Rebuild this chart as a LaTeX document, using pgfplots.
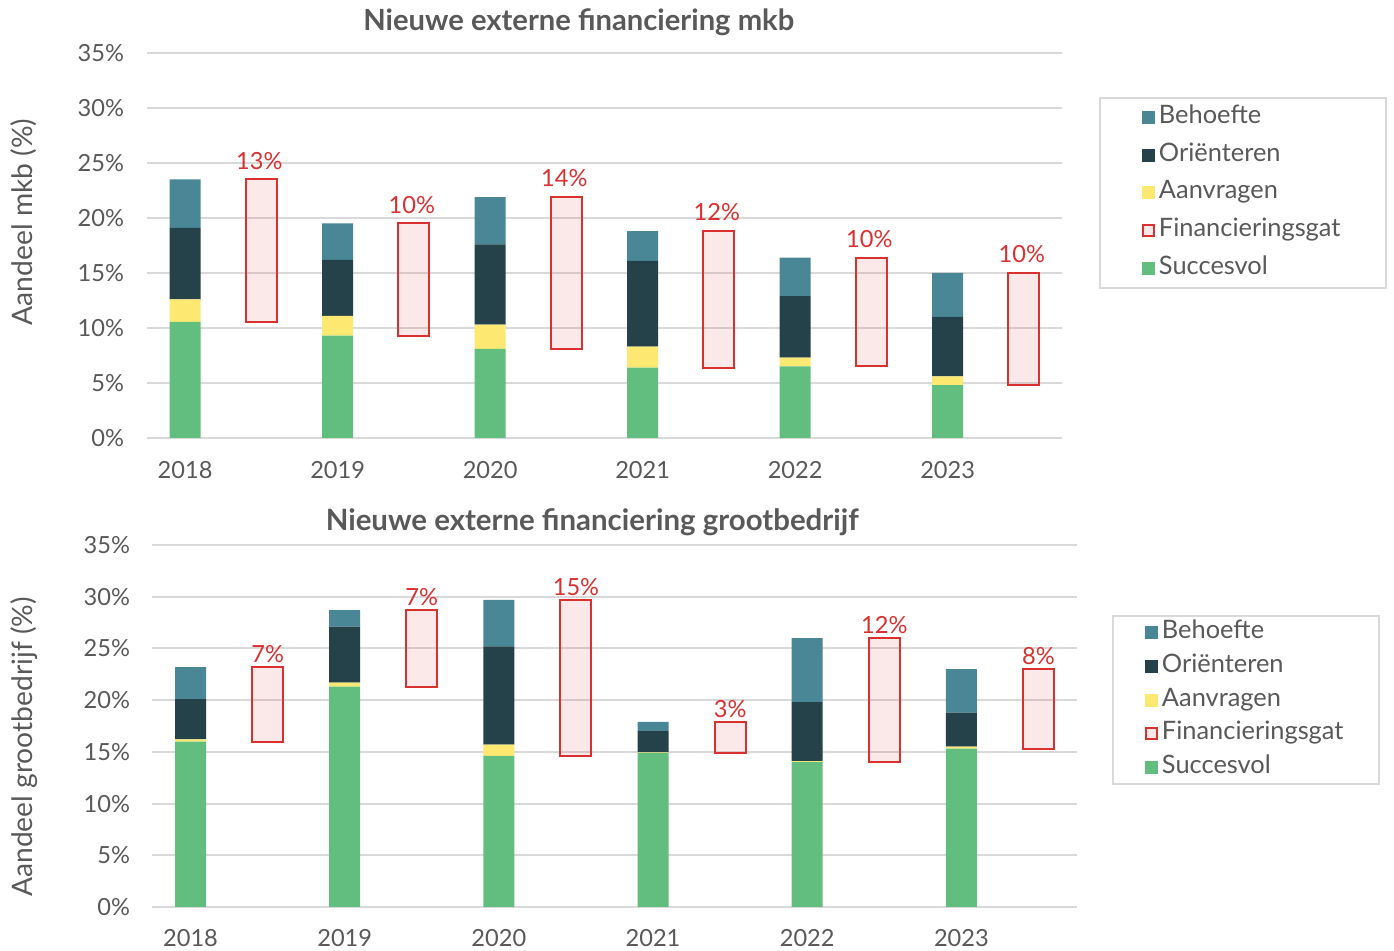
\documentclass[border=0pt]{standalone}
\usepackage{fontspec}
\setmainfont{Lato}
\usepackage{pgfplots}
\pgfplotsset{compat=1.18}
\definecolor{cBeh}{HTML}{4A8796}
\definecolor{cOri}{HTML}{25424A}
\definecolor{cAan}{HTML}{FDE972}
\definecolor{cSuc}{HTML}{62BE7E}
\definecolor{cRed}{HTML}{D93030}
\definecolor{cPink}{HTML}{FAE8E8}
\definecolor{cTxt}{HTML}{595959}
\definecolor{cGrid}{HTML}{D9D9D9}
\pgfplotsset{
  plain/.style={scale only axis, xmin=-0.5, xmax=11.5, ymin=0, ymax=35, anchor=south west},
  frame/.style={plain, ybar stacked, bar width=15.5pt},
  mainax/.style={frame,
    ytick={0,5,...,35}, ymajorgrids, major grid style={cGrid, line width=1pt},
    axis line style={draw=none}, tick style={draw=none},
    xtick={0,2,4,6,8,10}, xticklabels={2018,2019,2020,2021,2022,2023},
    yticklabel={\pgfmathprintnumber[assume math mode=true]{\tick}\%},
    ticklabel style={font=\fontsize{11.8}{13}\selectfont, text=cTxt},
    ylabel style={font=\fontsize{14.1}{16}\selectfont, text=cTxt},
    legend style={draw=cGrid, line width=1pt, anchor=north west,
      font=\fontsize{12.7}{14}\selectfont, text=cTxt, cells={anchor=west},
      nodes={text height=9pt, text depth=3pt}},
  },
  gapax/.style={frame, hide axis},
  labax/.style={plain, hide axis},
  gapbar/.style={fill=cRed, fill opacity=0.11, draw=cRed, draw opacity=1, line width=1pt},
  lbl/.style={draw=none, mark=none,
    nodes near coords={\pgfmathprintnumber[assume math mode=true]{\pgfplotspointmeta}\%},
    point meta=explicit,
    every node near coord/.append style={font=\fontsize{11.8}{13}\selectfont, text=cRed, anchor=south}},
  sqf/.style={legend image code/.code={\path[##1, draw=none] (0pt,-3.25pt) rectangle (6.5pt,3.25pt);}},
  sqg/.style={legend image code/.code={\path[##1, draw=cRed, fill=cPink, line width=1pt] (0.5pt,-2.75pt) rectangle (6pt,2.75pt);}},
}
\begin{document}
\begin{tikzpicture}
\useasboundingbox (0,0) rectangle (697pt,475.5pt);
% ---------------- top chart ----------------
\begin{axis}[mainax, at={(73.5pt,256.5pt)}, width=457.5pt, height=192.5pt,
  yticklabel style={xshift=-8pt}, xticklabel style={yshift=-8pt},
  title={Nieuwe externe financiering mkb},
  title style={at={(axis description cs:0.472,1.049)}, anchor=center,
    font=\bfseries\fontsize{14.6}{16}\selectfont, text=cTxt},
  ylabel={Aandeel mkb (\%)},
  ylabel style={at={(axis description cs:-0.135,0.561)}, anchor=center},
  legend style={at={(axis description cs:1.0404,0.8857)}, inner xsep=21pt, inner ysep=0.5pt,
    nodes={inner ysep=3.4pt}}]
\addplot[fill=cSuc, draw=none, forget plot] coordinates {(0,10.55) (2,9.3) (4,8.1) (6,6.4) (8,6.5) (10,4.8)};
\addplot[fill=cAan, draw=none, forget plot] coordinates {(0,2.05) (2,1.8) (4,2.2) (6,1.9) (8,0.8) (10,0.8)};
\addplot[fill=cOri, draw=none, forget plot] coordinates {(0,6.5) (2,5.1) (4,7.3) (6,7.8) (8,5.6) (10,5.4)};
\addplot[fill=cBeh, draw=none, forget plot] coordinates {(0,4.4) (2,3.3) (4,4.3) (6,2.7) (8,3.5) (10,4.0)};
\addlegendimage{sqf, fill=cBeh}\addlegendentry{Behoefte}
\addlegendimage{sqf, fill=cOri}\addlegendentry{Oriënteren}
\addlegendimage{sqf, fill=cAan}\addlegendentry{Aanvragen}
\addlegendimage{sqg}\addlegendentry{Financieringsgat}
\addlegendimage{sqf, fill=cSuc}\addlegendentry{Succesvol}
\end{axis}
\begin{axis}[gapax, at={(73.5pt,256.5pt)}, width=457.5pt, height=192.5pt]
\addplot[fill=none, draw=none] coordinates {(1,10.55) (3,9.3) (5,8.1) (7,6.4) (9,6.5) (11,4.8)};
\addplot[gapbar] coordinates {(1,12.95) (3,10.2) (5,13.8) (7,12.4) (9,9.9) (11,10.2)};
\end{axis}
\begin{axis}[labax, at={(73.5pt,256.5pt)}, width=457.5pt, height=192.5pt]
\addplot[lbl, every node near coord/.append style={yshift=1.5pt, xshift=-1pt}] coordinates {(1,23.5) [13] (3,19.5) [10] (5,21.9) [14] (7,18.8) [12] (9,16.4) [10] (11,15.0) [10]};
\end{axis}
% ---------------- bottom chart ----------------
\begin{axis}[mainax, at={(76pt,22pt)}, width=462.5pt, height=181pt,
  yticklabel style={xshift=-7.5pt}, xticklabel style={yshift=-7.5pt},
  title={Nieuwe externe financiering grootbedrijf},
  title style={at={(axis description cs:0.476,1.031)}, anchor=center,
    font=\bfseries\fontsize{14.7}{16}\selectfont, text=cTxt},
  ylabel={Aandeel grootbedrijf (\%)},
  ylabel style={at={(axis description cs:-0.1385,0.442)}, anchor=center},
  legend style={at={(axis description cs:1.0378,0.8066)}, inner xsep=16pt, inner ysep=0pt,
    nodes={inner ysep=2.4pt}}]
\addplot[fill=cSuc, draw=none, forget plot] coordinates {(0,16.0) (2,21.3) (4,14.6) (6,14.9) (8,14.0) (10,15.3)};
\addplot[fill=cAan, draw=none, forget plot] coordinates {(0,0.2) (2,0.4) (4,1.1) (6,0.05) (8,0.1) (10,0.2)};
\addplot[fill=cOri, draw=none, forget plot] coordinates {(0,3.9) (2,5.4) (4,9.5) (6,2.05) (8,5.7) (10,3.3)};
\addplot[fill=cBeh, draw=none, forget plot] coordinates {(0,3.1) (2,1.6) (4,4.5) (6,0.9) (8,6.2) (10,4.2)};
\addlegendimage{sqf, fill=cBeh}\addlegendentry{Behoefte}
\addlegendimage{sqf, fill=cOri}\addlegendentry{Oriënteren}
\addlegendimage{sqf, fill=cAan}\addlegendentry{Aanvragen}
\addlegendimage{sqg}\addlegendentry{Financieringsgat}
\addlegendimage{sqf, fill=cSuc}\addlegendentry{Succesvol}
\end{axis}
\begin{axis}[gapax, at={(76pt,22pt)}, width=462.5pt, height=181pt]
\addplot[fill=none, draw=none] coordinates {(1,16.0) (3,21.3) (5,14.6) (7,14.9) (9,14.0) (11,15.3)};
\addplot[gapbar] coordinates {(1,7.2) (3,7.4) (5,15.1) (7,3.0) (9,12.0) (11,7.7)};
\end{axis}
\begin{axis}[labax, at={(76pt,22pt)}, width=462.5pt, height=181pt]
\addplot[lbl, every node near coord/.append style={yshift=-1.5pt}] coordinates {(1,23.2) [7] (3,28.7) [7] (5,29.7) [15] (7,17.9) [3] (9,26.0) [12] (11,23.0) [8]};
\end{axis}
\end{tikzpicture}
\end{document}
